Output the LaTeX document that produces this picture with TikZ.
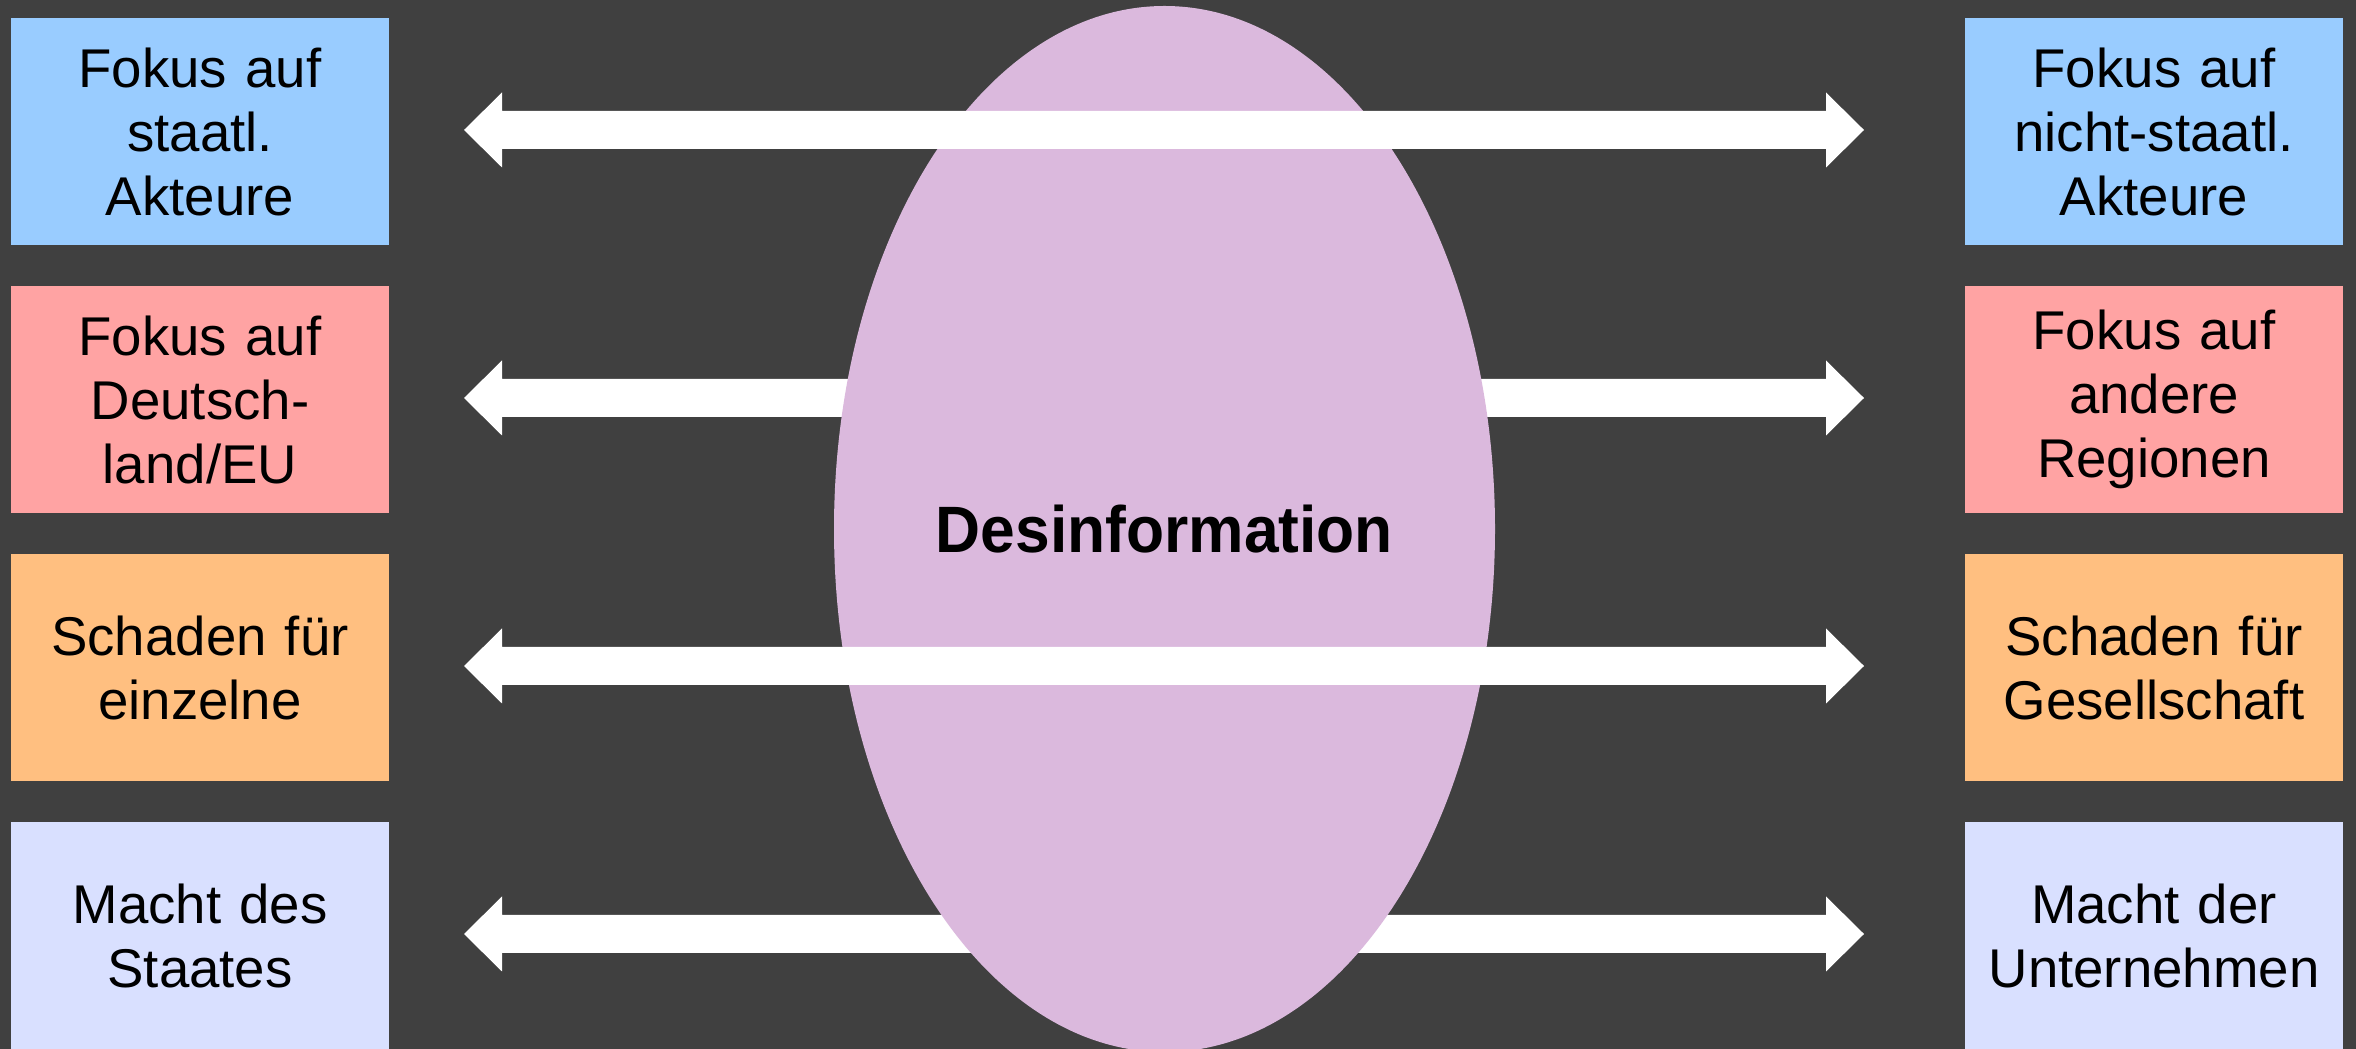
\documentclass[tikz,border=0pt]{standalone}
\usepackage{fontspec}
\usepackage{graphicx}
\setmainfont{Liberation Sans}
\usetikzlibrary{calc,shapes.geometric}
\definecolor{bgcol}{HTML}{404040}
\definecolor{cblue}{HTML}{99CCFF}
\definecolor{cred}{HTML}{FFA3A3}
\definecolor{corange}{HTML}{FFBF80}
\definecolor{clav}{HTML}{D9E0FF}
\definecolor{cell}{HTML}{DBB9DD}
\newcommand\dblarrow[2]{\fill[arrowfill] (#1) -- ++(38,37.5) -- ++(0,-18.5) -- ($(#2)+(-38,19)$) -- ++(0,18.5) -- (#2) -- ++(-38,-37.5) -- ++(0,18.5) -- ($(#1)+(38,-19)$) -- ++(0,-18.5) -- cycle;}
\begin{document}
\begin{tikzpicture}[x=0.5pt,y=0.5pt,
  arrowfill/.style={fill=white},
  catbox/.style={rectangle, inner sep=0pt, minimum width=189pt, minimum height=113.5pt,
    text width=185pt, align=center, text=black,
    font=\fontsize{27.3}{32}\selectfont},
  disc/.style={ellipse, fill=cell, inner sep=0pt, minimum width=330.5pt, minimum height=523pt,
    font=\fontsize{32.8}{38}\selectfont\bfseries}]
\useasboundingbox (0,0) rectangle (2356,1049);
\fill[bgcol] (0,0) rectangle (2356,1049);
% arrow end points
\coordinate (l1) at (464,919);  \coordinate (r1) at (1864,919);
\coordinate (l2) at (464,651);  \coordinate (r2) at (1864,651);
\coordinate (l3) at (464,383);  \coordinate (r3) at (1864,383);
\coordinate (l4) at (464,115);  \coordinate (r4) at (1864,115);
% arrows behind the ellipse
\dblarrow{l2}{r2}
\dblarrow{l4}{r4}
% ellipse
\node[disc] (E) at (1164.5,520) {\raisebox{-9pt}{\scalebox{0.95}[1]{Desinformation}}};
% arrows in front of the ellipse
\dblarrow{l1}{r1}
\dblarrow{l3}{r3}
% left boxes
\node[catbox, fill=cblue]   (L1) at (200,917.5) {Fokus auf\\staatl.\\Akteure};
\node[catbox, fill=cred]    (L2) at (200,649.5) {Fokus auf\\Deutsch-\\land/EU};
\node[catbox, fill=corange] (L3) at (200,381.5) {Schaden für\\einzelne};
\node[catbox, fill=clav]    (L4) at (200,113.5) {Macht des\\Staates};
% right boxes
\node[catbox, fill=cblue]   (R1) at (2154,917.5) {Fokus auf\\nicht-staatl.\\Akteure};
\node[catbox, fill=cred]    (R2) at (2154,649.5) {Fokus auf\\andere\\Regionen};
\node[catbox, fill=corange] (R3) at (2154,381.5) {Schaden für\\Gesellschaft};
\node[catbox, fill=clav]    (R4) at (2154,113.5) {Macht der\\Unternehmen};
\end{tikzpicture}
\end{document}
